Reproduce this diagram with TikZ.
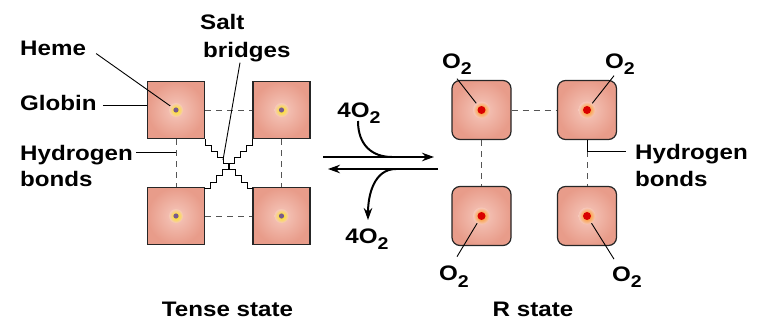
\documentclass[tikz,border=0pt]{standalone}
\usepackage{fontspec}
\setmainfont{Liberation Sans}[FakeStretch=1.15]
\usetikzlibrary{arrows.meta,calc}
\definecolor{salmon}{RGB}{232,156,138}
\definecolor{salmonlight}{RGB}{246,200,188}
\definecolor{hbgray}{RGB}{85,85,85}
\definecolor{hemepurple}{RGB}{120,90,140}
\newcommand{\lowtwo}{\raisebox{-6.5pt}{\fontsize{17}{17}\selectfont 2}}
\begin{document}
\begin{tikzpicture}[x=1pt,y=-1pt,
  every node/.style={font=\fontsize{21}{24}\selectfont\bfseries, inner sep=0pt},
  tsq/.style={draw=black!85, line width=1.2pt, minimum size=57pt, inner sep=0pt,
    shading=radial, inner color=salmonlight, outer color=salmon},
  rsq/.style={tsq, minimum size=59pt, rounded corners=8pt},
  hb/.style={draw=hbgray, line width=1pt, dash pattern=on 6pt off 5pt},
  ptr/.style={draw=black, line width=0.9pt},
  bridge/.style={draw=black, line width=0.9pt},
  rxn/.style={draw=black, line width=2pt},
  tip/.style={-{Stealth[length=12pt,width=8.5pt]}}
]
\useasboundingbox (0,0) rectangle (757,329);

% ---------- Tense state squares ----------
\node[tsq] (t1) at (176,110) {};
\node[tsq] (t2) at (281.5,110) {};
\node[tsq] (t3) at (176,216) {};
\node[tsq] (t4) at (281.5,216) {};

% ---------- R state squares ----------
\node[rsq] (r1) at (481.5,110) {};
\node[rsq] (r2) at (587,110) {};
\node[rsq] (r3) at (481.5,216) {};
\node[rsq] (r4) at (587,216) {};

% hydrogen bonds (dashed)
\draw[hb] (t1.east) -- (t2.west);
\draw[hb] (t3.east) -- (t4.west);
\draw[hb] (t1.south) -- (t3.north);
\draw[hb] (t2.south) -- (t4.north);
\draw[hb] (r1.east) -- (r2.west);
\draw[hb] (r1.south) -- (r3.north);
\draw[hb] (r2.south) -- (r4.north);

% salt bridges (staircases)
\draw[bridge] (t1.south east) foreach \i in {1,...,8} { -- ++(0,6.125) -- ++(6,0) };
\draw[bridge] (t2.south west) foreach \i in {1,...,8} { -- ++(0,6.125) -- ++(-6,0) };
\coordinate (sbx) at (223,160);

% ---------- labels, tense side ----------
\node[anchor=base west] (heme) at (20,55.7) {Heme};
\node[anchor=base west] (globin) at (20,110) {Globin};
\node[anchor=base west] (hydL) at (20,160) {Hydrogen};
\node[anchor=base west] (bondsL) at (20,186.5) {bonds};
\node[anchor=base west] (salt) at (200,30) {Salt};
\node[anchor=base west] (bridges) at (203,57) {bridges};

\draw[ptr] ($(heme.east)+(10,5)$) -- (t1.center);
\path (globin.east) ++(6,2.5) coordinate (gl);
\draw[ptr] (gl) -- (gl -| t1.west);
\path (hydL.east) ++(3,-2.5) coordinate (hl);
\draw[ptr] (hl) -- (hl -| t1.south);
\draw[ptr] ($(bridges.south west)+(37,1)$) -- (sbx);

% ---------- labels, R side ----------
\node[anchor=base] (o1) at (457,68) {O\lowtwo};
\node[anchor=base] (o2) at (620,68) {O\lowtwo};
\node[anchor=base] (o3) at (454,280.5) {O\lowtwo};
\node[anchor=base] (o4) at (627,281) {O\lowtwo};
\draw[ptr] ($(o1.south)+(0,4)$) -- (r1.center);
\draw[ptr] ($(o2.south)+(-6,1)$) -- (r2.center);
\draw[ptr] ($(o3.north)+(3,-9)$) -- (r3.center);
\draw[ptr] ($(o4.north)+(-13,-7)$) -- (r4.center);

\node[anchor=base west] (hydR) at (635,159.5) {Hydrogen};
\node[anchor=base west] (bondsR) at (635,186) {bonds};
\path (hydR.west) ++(-9,-2.5) coordinate (hr);
\draw[ptr] (r2.south) |- (hr);

% ---------- heme dots ----------
\foreach \n in {t1,t2,t3,t4}{
  \shade[inner color=yellow!85!orange, outer color=salmonlight] (\n.center) circle (7pt);
  \fill[hemepurple] (\n.center) circle (2.6pt);
}
\foreach \n in {r1,r2,r3,r4}{
  \shade[inner color=orange!90!yellow, outer color=salmonlight] (\n.center) circle (8.5pt);
  \fill[red!85!black] (\n.center) circle (4pt);
}

% ---------- reaction arrows ----------
\node[anchor=base] (inO) at (359,117) {4O\lowtwo};
\node[anchor=base] (outO) at (367,243) {4O\lowtwo};
\coordinate (fa) at (323,157);
\coordinate (fb) at (434,157);
\coordinate (ba) at (438,169);
\coordinate (bb) at (328,169);
\coordinate (fm) at (392,157);
\coordinate (bm) at (396,169);
\coordinate (ct) at (368,220);
\draw[rxn, tip] (fa) -- (fb);
\draw[rxn, tip] (ba) -- (bb);
\draw[rxn] (358,121) .. controls +(0,24) and +(-20,0) .. (fm);
\draw[rxn, tip] (bm) .. controls +(-22,0) and +(0,-25) .. (ct);

% ---------- state titles ----------
\node[anchor=base] (tense) at (227.5,316) {Tense state};
\node[anchor=base] (rstate) at (533,316) {R state};
\end{tikzpicture}
\end{document}
